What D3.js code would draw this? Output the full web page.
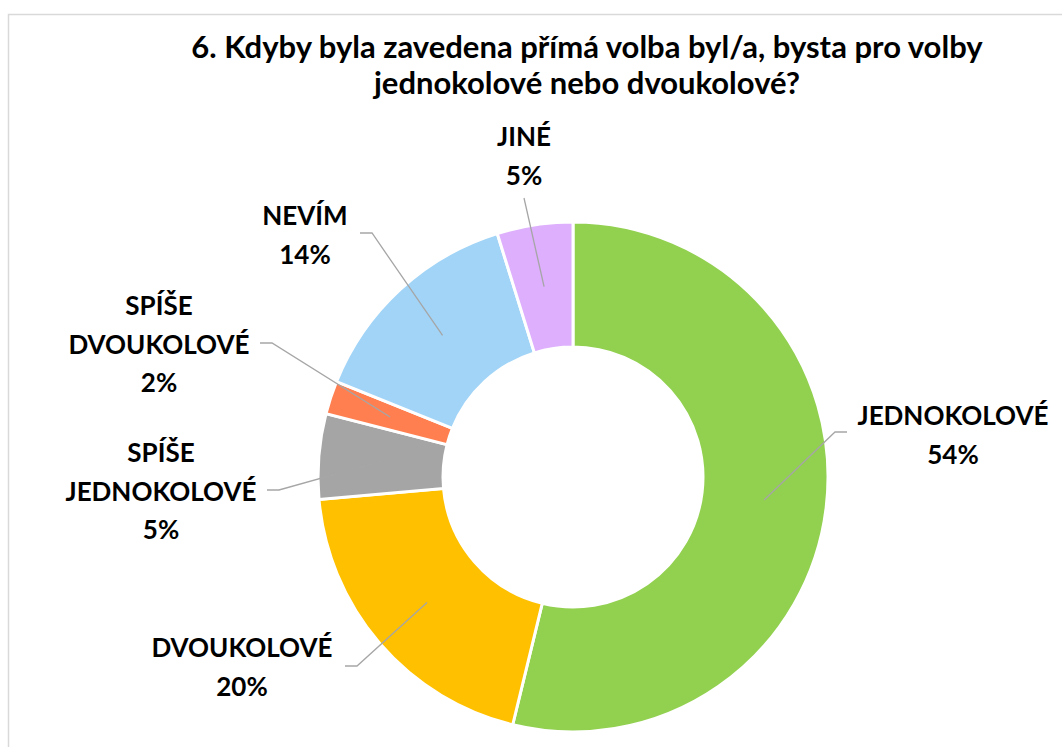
<!DOCTYPE html>
<html>
<head>
<meta charset="utf-8">
<script src="https://cdn.jsdelivr.net/npm/d3@7"></script>
<style>
  body { margin: 0; background: #fff; }
  svg text { font-family: Lato, "Open Sans", sans-serif; font-weight: bold; fill: #000; }
</style>
</head>
<body>
<div id="chart"></div>
<script>
// data, clockwise from 12 o'clock
var categories = ["JEDNOKOLOVÉ", "DVOUKOLOVÉ", "SPÍŠE JEDNOKOLOVÉ", "SPÍŠE DVOUKOLOVÉ", "NEVÍM", "JINÉ"];
var values = [53.8, 19.8, 5.4, 2.1, 14.1, 4.8];
var colors = ["#92D050", "#FFC000", "#A5A5A5", "#FF7F50", "#A1D4F7", "#DDAFFC"];
// label text lines (Excel wraps some of them)
var labelLines = [["JEDNOKOLOVÉ"], ["DVOUKOLOVÉ"], ["SPÍŠE", "JEDNOKOLOVÉ"], ["SPÍŠE", "DVOUKOLOVÉ"], ["NEVÍM"], ["JINÉ"]];
// where each label block sits (center x, first baseline y) and where its leader line starts
// side: +1 label right of the donut, -1 left of it, 0 straight leader from below the text
var labelLayout = [
    {x: 953, y: 425, elbow: [847, 432], side: 1},
    {x: 242, y: 657, elbow: [345, 666], side: -1},
    {x: 161, y: 462, elbow: [267, 490], side: -1},
    {x: 159, y: 315, elbow: [260, 343], side: -1},
    {x: 305, y: 225, elbow: [360, 233], side: -1},
    {x: 524, y: 146, elbow: [524, 198], side: 0}
];
var titleLines = ["6. Kdyby byla zavedena přímá volba byl/a, bysta pro volby", "jednokolové nebo dvoukolové?"];

var width = 1062, height = 747;
var cx = 573, cy = 477, outerR = 255, innerR = 130;
var lineStep = 38.5;

var svg = d3.select("#chart").append("svg")
    .attr("width", width)
    .attr("height", height);

// chart area frame (only top/left visible in the crop)
svg.append("rect")
    .attr("x", 8.5).attr("y", 14.5)
    .attr("width", width + 20).attr("height", height + 20)
    .attr("fill", "none")
    .attr("stroke", "#d9d9d9")
    .attr("stroke-width", 1.5);

var title = svg.append("text")
    .attr("text-anchor", "middle")
    .style("font-size", "31px");
title.selectAll("tspan").data(titleLines).enter()
    .append("tspan")
    .attr("x", 587)
    .attr("y", function(d, i){ return 58 + i * 36; })
    .text(function(d){ return d; });

var data = categories.map(function(c, i){
    return {name: c, value: values[i], color: colors[i], lines: labelLines[i], layout: labelLayout[i]};
});

var pie = d3.pie().sort(null).value(function(d){ return d.value; });
var arc = d3.arc().innerRadius(innerR).outerRadius(outerR);
var arcs = pie(data);

var g = svg.append("g").attr("transform", "translate(" + cx + "," + cy + ")");

g.selectAll("path.slice").data(arcs).enter()
    .append("path")
    .classed("slice", true)
    .attr("d", arc)
    .attr("fill", function(d){ return d.data.color; })
    .attr("stroke", "#fff")
    .attr("stroke-width", 3);

// leader lines: label -> short horizontal elbow -> slice centroid
svg.selectAll("polyline.leader").data(arcs).enter()
    .append("polyline")
    .classed("leader", true)
    .attr("fill", "none")
    .attr("stroke", "#a6a6a6")
    .attr("stroke-width", 1.3)
    .attr("points", function(d){
        var c = arc.centroid(d);
        var end = [cx + c[0], cy + c[1]];
        var lay = d.data.layout;
        var pts = [lay.elbow];
        if (lay.side !== 0) {
            pts.push([lay.elbow[0] - 12 * lay.side, lay.elbow[1]]);
        }
        pts.push(end);
        return pts.map(function(p){ return p.join(","); }).join(" ");
    });

var labels = svg.selectAll("text.label").data(arcs).enter()
    .append("text")
    .classed("label", true)
    .attr("text-anchor", "middle")
    .style("font-size", "26px");

labels.each(function(d){
    var lay = d.data.layout;
    var lines = d.data.lines.concat([Math.round(d.data.value) + "%"]);
    d3.select(this).selectAll("tspan").data(lines).enter()
        .append("tspan")
        .attr("x", lay.x)
        .attr("y", function(t, i){ return lay.y + i * lineStep; })
        .text(function(t){ return t; });
});
</script>
</body>
</html>
